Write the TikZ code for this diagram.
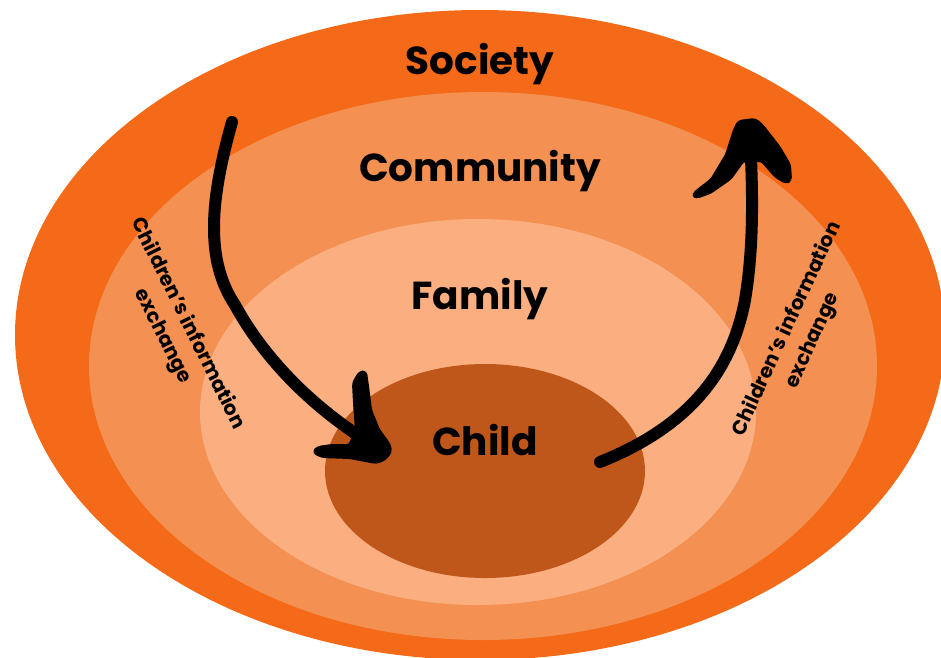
\documentclass[tikz,border=0pt]{standalone}
\usepackage{fontspec}
\setmainfont{Poppins}[BoldFont={* Bold}]
\usetikzlibrary{shapes.geometric}
\definecolor{socC}{HTML}{F46A18}
\definecolor{comC}{HTML}{F39052}
\definecolor{famC}{HTML}{FBAF80}
\definecolor{chiC}{HTML}{C0571A}
\tikzset{
  ring/.style={ellipse, draw=none, inner sep=0pt},
  lab/.style={font=\bfseries\fontsize{39}{44}\selectfont, text=black},
  sidelab/.style={font=\bfseries\fontsize{20}{28}\selectfont, align=center, text=black, inner sep=0pt},
  shaft/.style={line width=12pt, line cap=round, black},
  headshape/.style={fill=black, draw=black, line width=4pt, line join=round, rounded corners=3pt}
}
\begin{document}
\begin{tikzpicture}[x=1pt,y=-1pt]
\useasboundingbox[fill=white] (0,0) rectangle (941,657);
\begin{scope}
\clip (0,0) rectangle (941,657);
\node[ring, fill=socC, minimum width=930pt, minimum height=650pt] (society) at (480,335) {};
\node[ring, fill=comC, minimum width=788pt, minimum height=548pt] (community) at (483,366) {};
\node[ring, fill=famC, minimum width=556pt, minimum height=386pt] (family) at (478,412) {};
\node[ring, fill=chiC, minimum width=320pt, minimum height=214pt] (child) at (485,471) {};
\end{scope}
\node[lab] (tsoc) at (480,64) {Society};
\node[lab] (tcom) at (480,171) {Community};
\node[lab] (tfam) at (480,299) {Family};
\node[lab] (tchi) at (485,440) {Child};
\node[sidelab, rotate=-63.6] (lt) at (175,330) {Children's information\\exchange};
\node[sidelab, rotate=65.3] (rt) at (800,335) {Children's information\\exchange};
% left arrow
\coordinate (a1) at (232,122);
\coordinate (a2) at (375,446);
\draw[shaft] (a1) .. controls (210,200) and (205,260) .. (235,305) .. controls (265,360) and (315,410) .. (a2);
\path[headshape] (360,373) -- (365,372) -- (367,386) -- (370,410) -- (378,430) -- (389,445) -- (390,452) -- (384,459) -- (376,462) -- (350,457) -- (322,456) -- (314,452) -- (318,448) -- (332,446) -- (350,446) -- (357,430) -- (355,403) -- (354,383) -- cycle;
% right arrow
\coordinate (b1) at (600,462);
\coordinate (b2) at (750,135);
\draw[shaft] (b1) .. controls (680,430) and (730,380) .. (745,300) .. controls (755,240) and (752,180) .. (b2);
\path[headshape] (735,130) -- (739,122) -- (755,120) -- (762,126) -- (779,148) -- (789,165) -- (790,180) -- (786,182) -- (776,176) -- (762,160) -- (743,160) -- (730,178) -- (710,192) -- (696,197) -- (694,194) -- (712,180) -- (727,155) -- cycle;
\end{tikzpicture}
\end{document}
